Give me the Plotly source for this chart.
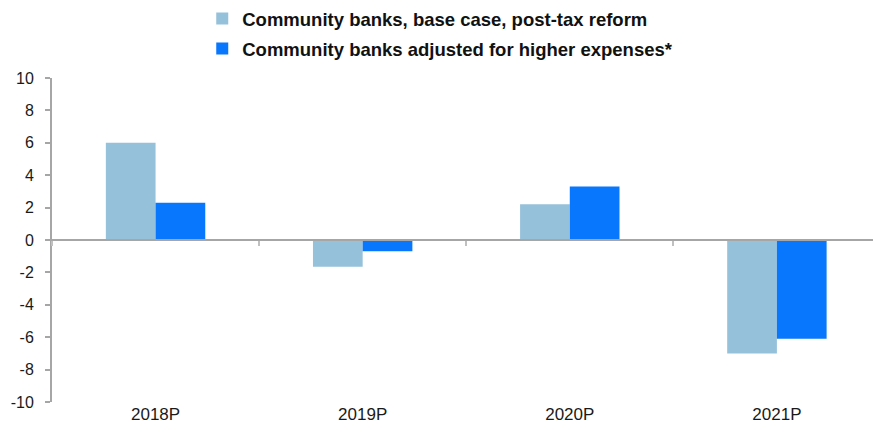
import plotly.graph_objects as go

# Projected change by year, percent
years = ["2018P", "2019P", "2020P", "2021P"]
base_case = [6.0, -1.65, 2.2, -7.0]
adjusted = [2.3, -0.7, 3.3, -6.1]
y_ticks = [-10, -8, -6, -4, -2, 0, 2, 4, 6, 8, 10]
y_tick_labels = ["-10", "-8", "-6", "-4", "-2", "0", "2", "4", "6", "8", "10"]

series_names = [
    "Community banks, base case, post-tax reform",
    "Community banks adjusted for higher expenses*",
]
light_blue = "#96c1da"
bright_blue = "#0877fe"
axis_grey = "#a6a6a6"

fig = go.Figure()
fig.add_trace(go.Bar(x=years, y=base_case, name=series_names[0], legendgroup="a",
                     marker=dict(color=light_blue, line=dict(width=0))))
fig.add_trace(go.Bar(x=years, y=adjusted, name=series_names[1], legendgroup="b",
                     marker=dict(color=bright_blue, line=dict(width=0))))
# Helper trace so the zero-line category axis gets drawn
fig.add_trace(go.Scatter(x=years, y=[None] * len(years), xaxis="x2",
                         showlegend=False, hoverinfo="skip"))

x_range = [-0.5, 3.464]
fig.update_layout(
    width=873, height=434,
    margin=dict(l=52, r=0, t=77, b=32),
    paper_bgcolor="white", plot_bgcolor="white",
    barmode="group", bargap=0.52, bargroupgap=0,
    font=dict(family="Liberation Sans, Arial, sans-serif", size=16, color="#1a1a1a"),
    showlegend=True,
    legend=dict(
        x=0.183, xanchor="left", y=1.24, yanchor="top",
        font=dict(size=18.5, color="#111111", family="Liberation Sans, Arial, sans-serif", weight="bold"),
        bgcolor="rgba(0,0,0,0)", itemwidth=30,
        traceorder="grouped", tracegroupgap=3,
    ),
    xaxis=dict(
        type="category", range=x_range, showline=False, showgrid=False,
        zeroline=False, ticks="", tickfont=dict(size=17),
    ),
    xaxis2=dict(
        type="category", overlaying="x", anchor="free", position=0.5,
        matches="x", range=x_range, showline=True, linecolor=axis_grey,
        linewidth=1.5, showgrid=False, zeroline=False, ticks="outside",
        tickson="boundaries", ticklen=5, tickwidth=1.5, tickcolor="#c0c0c0",
        showticklabels=False,
    ),
    yaxis=dict(
        range=[-10, 10], tickvals=y_ticks, ticktext=y_tick_labels,
        showgrid=False, zeroline=False,
        showline=True, linecolor=axis_grey, linewidth=2,
        ticks="outside", ticklen=5, tickwidth=1.5, tickcolor=axis_grey,
        ticklabelstandoff=8, tickfont=dict(size=16),
    ),
)

fig.write_html("out.html")
